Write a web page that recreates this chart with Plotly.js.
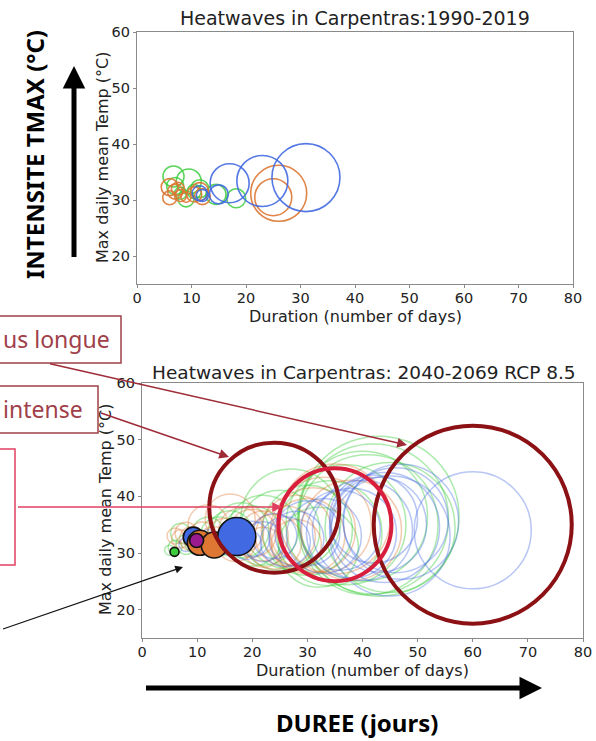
<!DOCTYPE html>
<html>
<head>
<meta charset="utf-8">
<script src="https://cdn.plot.ly/plotly-3.0.1.min.js"></script>
<style>html,body{margin:0;padding:0;background:#fff;}#chart{width:596px;height:741px;}</style>
</head>
<body>
<div id="chart"></div>
<script>
// ---------- Top plot: 1990-2019 (duration days, max temp °C, bubble diameter px) ----------
const topBlueX = [31, 23, 17, 15, 11.5, 12];
const topBlueY = [34, 33.4, 33, 31, 31.2, 30.8];
const topBlueS = [68, 51, 39, 19, 15, 12];

const topOrangeX = [26, 25, 6, 6, 7, 8, 10.5, 11.5, 12, 7.5, 9];
const topOrangeY = [31.2, 30.5, 32.3, 30.4, 31.5, 30.8, 31, 31.5, 30.6, 32, 30.5];
const topOrangeS = [56, 37, 17, 14, 15, 12, 15, 18, 16, 13, 10];

const topGreenX = [6.7, 9.5, 7, 9, 11.5, 14.5, 18.2, 8, 10.5];
const topGreenY = [34.2, 33.3, 32.5, 30.2, 32, 31, 30.3, 31.2, 31.5];
const topGreenS = [21, 25, 17, 16, 18, 20, 19, 12, 14];

// ---------- Bottom plot: 2040-2069 RCP 8.5 ----------
const botBlueX = [60, 47, 46, 44, 43, 40, 38, 36, 33, 30, 28, 26, 24, 22, 20, 19, 15, 13, 12, 8, 45, 42];
const botBlueY = [34, 35.5, 35.8, 34.5, 35, 34, 33.5, 34, 33, 33.5, 32.5, 32, 33, 32, 32.5, 31.5, 32, 31.5, 32.5, 31.5, 33, 36];
const botBlueS = [117, 115, 105, 110, 95, 100, 90, 80, 75, 65, 55, 50, 45, 40, 35, 30, 25, 20, 18, 14, 120, 88];

const botOrangeX = [35, 33, 31, 30, 28, 26, 24, 22, 20, 18, 17, 15, 13, 11, 9, 8, 7, 6, 12, 16, 38, 28, 22];
const botOrangeY = [36, 35, 34, 33, 34, 33, 32, 33, 33.5, 34, 32, 33, 32, 33, 32.5, 33.5, 32.5, 33, 35, 36, 34, 31.5, 31];
const botOrangeS = [110, 95, 85, 75, 70, 60, 55, 50, 48, 45, 40, 35, 30, 28, 24, 22, 18, 16, 40, 50, 100, 50, 40];

const botGreenX = [43, 42, 41, 40, 45, 37, 34, 30, 27, 25, 22, 20, 18, 16, 14, 12, 10, 8, 6, 5, 7, 32];
const botGreenY = [36.5, 36, 35, 36.5, 34.5, 35, 33.5, 34, 36, 34, 34, 33, 34, 33.5, 33, 33.5, 32, 31.5, 31, 30.5, 33.5, 31];
const botGreenS = [160, 150, 140, 130, 130, 120, 105, 90, 100, 80, 70, 60, 55, 45, 38, 32, 25, 20, 14, 10, 20, 80];

// filled highlighted events
const filledX = [9.3, 10.5, 13.1, 17.2, 9.9, 5.9];
const filledY = [32.8, 31.8, 31.4, 32.9, 32.2, 30.2];
const filledS = [20, 25, 26, 38, 14, 9];
const filledC = ['royalblue', '#DD7733', '#DD7733', 'royalblue', '#9B1B8E', '#3DCC3D'];

// thick outlined highlighted events
const ringX = [24, 60, 35];
const ringY = [38, 35, 35];
const ringS = [130, 198, 113];
const ringC = ['#8B1115', '#8B1115', '#D81E3C'];

function ring(x, y, s, color, width, xa, ya) {
  return {type: 'scatter', mode: 'markers', x: x, y: y, xaxis: xa, yaxis: ya,
    hoverinfo: 'skip', showlegend: false, cliponaxis: true,
    marker: {size: s, sizemode: 'diameter', opacity: 1, color: 'rgba(0,0,0,0)', line: {color: color, width: width}}};
}

const data = [
  ring(topGreenX, topGreenY, topGreenS, 'rgba(61,204,61,0.85)', 1.6, 'x', 'y'),
  ring(topOrangeX, topOrangeY, topOrangeS, 'rgba(221,119,51,0.9)', 1.6, 'x', 'y'),
  ring(topBlueX, topBlueY, topBlueS, 'rgba(65,105,225,0.9)', 1.6, 'x', 'y'),
  ring(botGreenX, botGreenY, botGreenS, 'rgba(61,204,61,0.42)', 1.5, 'x2', 'y2'),
  ring(botOrangeX, botOrangeY, botOrangeS, 'rgba(221,119,51,0.38)', 1.5, 'x2', 'y2'),
  ring(botBlueX, botBlueY, botBlueS, 'rgba(65,105,225,0.38)', 1.5, 'x2', 'y2'),
  {type: 'scatter', mode: 'markers', x: filledX, y: filledY, xaxis: 'x2', yaxis: 'y2',
    hoverinfo: 'skip', showlegend: false,
    marker: {size: filledS, sizemode: 'diameter', color: filledC, opacity: 1, line: {color: '#111', width: 1.6}}},
  {type: 'scatter', mode: 'markers', x: ringX, y: ringY, xaxis: 'x2', yaxis: 'y2',
    hoverinfo: 'skip', showlegend: false,
    marker: {size: ringS, sizemode: 'diameter', opacity: 1, color: 'rgba(0,0,0,0)', line: {color: ringC, width: 4}}}
];

const W = 596, H = 741;
const px = v => v / W;
const py = v => (H - v) / H;

const tickFont = {family: 'DejaVu Sans', size: 14.5, color: '#222'};
function axis(extra) {
  return Object.assign({
    showline: true, mirror: true, linecolor: '#8a8a8a', linewidth: 1.2,
    ticks: 'outside', ticklen: 3, tickcolor: '#8a8a8a', tickwidth: 1,
    showgrid: false, zeroline: false, tickfont: tickFont, fixedrange: true
  }, extra);
}
const xTicks = [0, 10, 20, 30, 40, 50, 60, 70, 80];
const yTicks = [20, 30, 40, 50, 60];
const xTitle = 'Duration (number of days)';
const yTitle = 'Max daily mean Temp (°C)';
const titleFont = {family: 'DejaVu Sans', size: 16, color: '#222'};

const labelRed = '#A0404A', labelCrimson = '#E04060';

function paperText(x, y, text, font, extra) {
  return Object.assign({xref: 'paper', yref: 'paper', x: px(x), y: py(y), text: text, showarrow: false,
    font: font, xanchor: 'center', yanchor: 'middle'}, extra || {});
}

const layout = {
  width: W, height: H, margin: {l: 0, r: 0, t: 0, b: 0},
  paper_bgcolor: '#fff', plot_bgcolor: '#fff', showlegend: false,
  xaxis: axis({domain: [px(137), px(573)], range: [0, 80], tickvals: xTicks, anchor: 'y', ticklabelstandoff: -3}),
  yaxis: axis({domain: [py(284), py(32)], range: [15, 60], tickvals: yTicks, anchor: 'x'}),
  xaxis2: axis({domain: [px(142), px(583)], range: [0, 80], tickvals: xTicks, anchor: 'y2', ticklabelstandoff: -3}),
  yaxis2: axis({domain: [py(638), py(383)], range: [15, 60], tickvals: yTicks, anchor: 'x2'}),
  shapes: [
    {type: 'rect', xref: 'paper', yref: 'paper', x0: px(-5), x1: px(121), y0: py(363), y1: py(316),
      line: {color: labelRed, width: 1.5}, fillcolor: 'rgba(0,0,0,0)'},
    {type: 'rect', xref: 'paper', yref: 'paper', x0: px(-5), x1: px(98), y0: py(433), y1: py(386),
      line: {color: labelRed, width: 1.5}, fillcolor: 'rgba(0,0,0,0)'},
    {type: 'rect', xref: 'paper', yref: 'paper', x0: px(-5), x1: px(15), y0: py(565), y1: py(449),
      line: {color: labelCrimson, width: 1.5}, fillcolor: 'rgba(0,0,0,0)'}
  ],
  annotations: [
    paperText(355, 18, 'Heatwaves in Carpentras:1990-2019', {family: 'DejaVu Sans', size: 19, color: '#222'}),
    paperText(364, 372, 'Heatwaves in Carpentras: 2040-2069 RCP 8.5', {family: 'DejaVu Sans', size: 18.5, color: '#222'}),
    paperText(355, 316, xTitle, titleFont),
    paperText(362, 670, xTitle, titleFont),
    paperText(102, 158, yTitle, titleFont, {textangle: -90}),
    paperText(105, 510, yTitle, titleFont, {textangle: -90}),
    paperText(1, 339, 'us longue', {family: 'Noto Sans', size: 23, color: labelRed}, {xanchor: 'left'}),
    paperText(1, 409, 'intense', {family: 'Noto Sans', size: 23, color: labelRed}, {xanchor: 'left'}),
    // arrows
    {xref: 'paper', yref: 'paper', x: px(407), y: py(445), ax: -360, ay: -82, text: ' ', showarrow: true,
      arrowhead: 2, arrowsize: 1.3, arrowwidth: 1.5, arrowcolor: '#9E2B36', standoff: 0, startstandoff: 0},
    {xref: 'paper', yref: 'paper', x: px(229), y: py(457), ax: -131, ay: -45, text: ' ', showarrow: true,
      arrowhead: 2, arrowsize: 1.3, arrowwidth: 1.5, arrowcolor: '#9E2B36', standoff: 0},
    {xref: 'paper', yref: 'paper', x: px(282), y: py(507), ax: -267, ay: 0, text: ' ', showarrow: true,
      arrowhead: 2, arrowsize: 1.3, arrowwidth: 1.5, arrowcolor: labelCrimson, standoff: 0},
    {xref: 'paper', yref: 'paper', x: px(183), y: py(567), ax: -190, ay: 63, text: ' ', showarrow: true,
      arrowhead: 2, arrowsize: 1.3, arrowwidth: 1.2, arrowcolor: '#111', standoff: 0},
    // big axis arrows
    {xref: 'paper', yref: 'paper', x: px(74), y: py(66), ax: 0, ay: 201, text: ' ', showarrow: true,
      arrowhead: 2, arrowsize: 0.9, arrowwidth: 5, arrowcolor: '#000', standoff: 0},
    {xref: 'paper', yref: 'paper', x: px(542), y: py(688), ax: -399, ay: 0, text: ' ', showarrow: true,
      arrowhead: 2, arrowsize: 0.9, arrowwidth: 5, arrowcolor: '#000', standoff: 0},
    paperText(35, 155, '<b>INTENSITE TMAX (°C)</b>', {family: 'Noto Sans', size: 24, color: '#000'}, {textangle: -90}),
    paperText(357, 722, '<b>DUREE (jours)</b>', {family: 'Noto Sans', size: 24, color: '#000'})
  ]
};

Plotly.newPlot('chart', data, layout, {staticPlot: true, displayModeBar: false});
</script>
</body>
</html>
